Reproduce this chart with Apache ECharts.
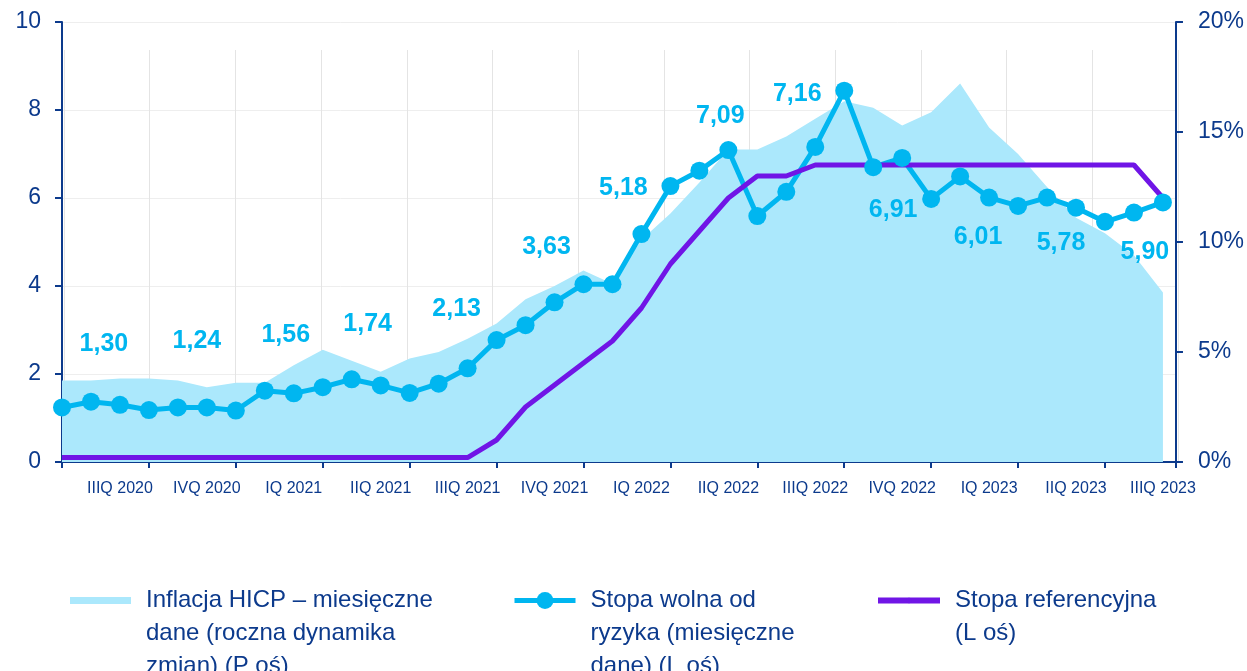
<!DOCTYPE html>
<html>
<head>
<meta charset="utf-8">
<script src="https://cdn.jsdelivr.net/npm/echarts@6/dist/echarts.min.js"></script>
<style>
  html, body { margin: 0; padding: 0; background: #fff; }
  #chart { width: 1247px; height: 671px; }
</style>
</head>
<body>
<div id="chart"></div>
<script>
// monthly observations, VII 2020 - IX 2023
const months = [
  '07.2020', '08.2020', '09.2020', '10.2020', '11.2020', '12.2020',
  '01.2021', '02.2021', '03.2021', '04.2021', '05.2021', '06.2021',
  '07.2021', '08.2021', '09.2021', '10.2021', '11.2021', '12.2021',
  '01.2022', '02.2022', '03.2022', '04.2022', '05.2022', '06.2022',
  '07.2022', '08.2022', '09.2022', '10.2022', '11.2022', '12.2022',
  '01.2023', '02.2023', '03.2023', '04.2023', '05.2023', '06.2023',
  '07.2023', '08.2023', '09.2023'
]
const quarterLabels = [
  'IIIQ 2020', 'IVQ 2020', 'IQ 2021', 'IIQ 2021', 'IIIQ 2021', 'IVQ 2021',
  'IQ 2022', 'IIQ 2022', 'IIIQ 2022', 'IVQ 2022', 'IQ 2023', 'IIQ 2023', 'IIIQ 2023'
]
// HICP inflation, % y/y (right axis)
const inflation = [
  3.7, 3.7, 3.8, 3.8, 3.7, 3.4, 3.6, 3.6, 4.4, 5.1, 4.6, 4.1,
  4.7, 5.0, 5.6, 6.3, 7.4, 8.0, 8.7, 8.1, 10.1, 11.3, 12.7, 14.2,
  14.2, 14.8, 15.6, 16.4, 16.1, 15.3, 15.9, 17.2, 15.2, 14.0, 12.5, 11.1,
  10.4, 9.4, 7.7
]
// risk-free rate (left axis)
const riskFree = [
  1.24, 1.37, 1.30, 1.18, 1.24, 1.24, 1.17, 1.62, 1.56, 1.70, 1.88, 1.74,
  1.57, 1.78, 2.13, 2.77, 3.11, 3.63, 4.04, 4.04, 5.18, 6.27, 6.62, 7.09,
  5.59, 6.14, 7.16, 8.44, 6.70, 6.91, 5.98, 6.49, 6.01, 5.82, 6.01, 5.78,
  5.46, 5.67, 5.90
]
// NBP reference rate (left axis)
const refRate = [
  0.1, 0.1, 0.1, 0.1, 0.1, 0.1, 0.1, 0.1, 0.1, 0.1, 0.1, 0.1,
  0.1, 0.1, 0.1, 0.5, 1.25, 1.75, 2.25, 2.75, 3.5, 4.5, 5.25, 6.0,
  6.5, 6.5, 6.75, 6.75, 6.75, 6.75, 6.75, 6.75, 6.75, 6.75, 6.75, 6.75,
  6.75, 6.75, 6.0
]

const NAVY = '#0c3a8c'
const CYAN = '#00b6f0'
const AREA = '#abe8fc'
const PURPLE = '#7015e6'
const FONT = "'Liberation Sans', Arial, sans-serif"

// where the quarter-end value labels sit relative to their point
const labelOffsets = {
  2: [-16, -61], 5: [-10, -66], 8: [-8, -58], 11: [-13, -61], 14: [-11, -59],
  17: [-8, -55], 20: [-18, -46], 23: [-8, -34], 26: [-18, -53],
  29: [-9, 52], 32: [-11, 40], 35: [-15, 35], 38: [-18, 50]
}

const X_MAX = 38.45

const chart = echarts.init(document.getElementById('chart'))

const legendText = {
  color: NAVY, fontFamily: FONT, fontSize: 24, lineHeight: 33,
  rich: { gap: { width: 10, lineHeight: 33 } }
}
// push the text down so its first line sits level with the icon, with a wider gap after the icon
const topAligned = name => {
  const lines = name.split('\n')
  const pad = lines.slice(1).map(() => '{gap|}')
  return pad.concat(lines.map(l => '{gap|}' + l)).join('\n')
}

const option = {
  animation: false,
  grid: [
    { left: 62, right: 71, top: 22, bottom: 209 },
    { left: 64, right: 69, top: 50, bottom: 209 }
  ],
  legend: [
    {
      left: 70, top: 518, padding: 0,
      itemWidth: 61, itemHeight: 7,
      formatter: topAligned,
      data: [{ name: 'Inflacja HICP – miesięczne\ndane (roczna dynamika\nzmian) (P oś)', icon: 'rect', itemStyle: { color: AREA } }],
      textStyle: legendText
    },
    {
      left: 512, top: 518, padding: 0,
      itemWidth: 61, itemHeight: 21,
      formatter: topAligned,
      data: ['Stopa wolna od\nryzyka (miesięczne\ndane) (L oś)'],
      lineStyle: { width: 5 },
      textStyle: legendText
    },
    {
      left: 875, top: 551, padding: 0,
      itemWidth: 62, itemHeight: 7,
      formatter: topAligned,
      data: ['Stopa referencyjna\n(L oś)'],
      lineStyle: { width: 6 },
      textStyle: legendText
    }
  ],
  xAxis: [
    {
      type: 'value', gridIndex: 0, min: 0, max: X_MAX, interval: 3,
      axisLine: { onZero: false, lineStyle: { color: NAVY, width: 2 } },
      axisTick: { show: true, length: 6, lineStyle: { color: NAVY, width: 2 } },
      axisLabel: { show: false },
      splitLine: { show: false }
    },
    {
      type: 'value', gridIndex: 0, position: 'bottom', min: 0, max: X_MAX, interval: 1,
      axisLine: { show: false, onZero: false },
      axisTick: { show: false },
      splitLine: { show: false },
      axisLabel: {
        margin: 19, color: NAVY, fontFamily: FONT, fontSize: 16,
        showMinLabel: true, showMaxLabel: true,
        formatter: function (v) {
          return (Math.abs(v - Math.round(v)) < 1e-6 && Math.round(v) % 3 === 2)
            ? quarterLabels[(Math.round(v) - 2) / 3] : ''
        }
      }
    },
    {
      type: 'value', gridIndex: 1, min: 0, max: 13, interval: 1,
      axisLine: { show: false }, axisTick: { show: false }, axisLabel: { show: false },
      splitLine: { show: true, lineStyle: { color: '#e4e4e4', width: 1 } }
    }
  ],
  yAxis: [
    {
      type: 'value', gridIndex: 0, min: 0, max: 10, interval: 2,
      axisLine: { show: true, onZero: false, lineStyle: { color: NAVY, width: 2 } },
      axisTick: { show: true, length: 7, lineStyle: { color: NAVY, width: 2 } },
      axisLabel: { margin: 21, color: NAVY, fontFamily: FONT, fontSize: 23 },
      splitLine: { show: true, lineStyle: { color: '#eeeeee', width: 1 } }
    },
    {
      type: 'value', gridIndex: 0, position: 'right', min: 0, max: 20, interval: 5,
      axisLine: { show: true, onZero: false, lineStyle: { color: NAVY, width: 2 } },
      axisTick: { show: true, length: 7, lineStyle: { color: NAVY, width: 2 } },
      axisLabel: { margin: 22, color: NAVY, fontFamily: FONT, fontSize: 23, formatter: '{value}%' },
      splitLine: { show: false }
    },
    { type: 'value', gridIndex: 1, min: 0, max: 1, show: false }
  ],
  series: [
    {
      name: 'Inflacja HICP – miesięczne\ndane (roczna dynamika\nzmian) (P oś)',
      type: 'line', xAxisIndex: 0, yAxisIndex: 1,
      symbol: 'none', lineStyle: { width: 0 },
      itemStyle: { color: AREA },
      areaStyle: { color: AREA, opacity: 1 },
      data: inflation.map((v, i) => [i, v])
    },
    {
      name: 'Stopa wolna od\nryzyka (miesięczne\ndane) (L oś)',
      type: 'line', xAxisIndex: 0, yAxisIndex: 0,
      symbol: 'circle', symbolSize: 18,
      lineStyle: { color: CYAN, width: 5 },
      itemStyle: { color: CYAN },
      label: {
        show: false, color: CYAN, fontFamily: FONT, fontWeight: 'bold', fontSize: 25,
        formatter: p => p.value[1].toFixed(2).replace('.', ',')
      },
      data: riskFree.map((v, i) => {
        const off = labelOffsets[i]
        return off ? { value: [i, v], label: { show: true, position: 'inside', offset: off } } : [i, v]
      })
    },
    {
      name: 'Stopa referencyjna\n(L oś)',
      type: 'line', xAxisIndex: 0, yAxisIndex: 0,
      symbol: 'none',
      lineStyle: { color: PURPLE, width: 5 },
      itemStyle: { color: PURPLE },
      data: refRate.map((v, i) => [i, v])
    }
  ]
}

chart.setOption(option)
</script>
</body>
</html>
